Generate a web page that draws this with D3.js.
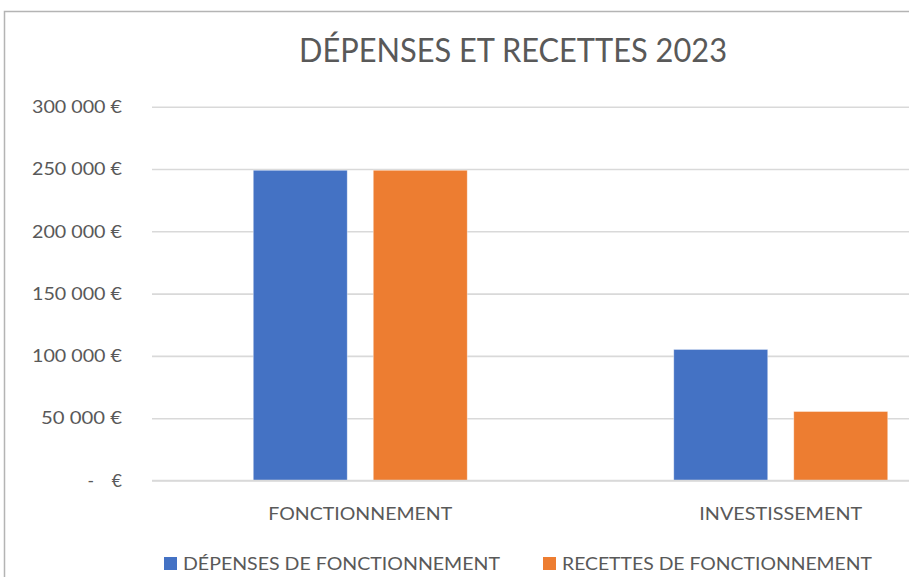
<!DOCTYPE html>
<html><head><meta charset="utf-8">
<script src="https://cdn.jsdelivr.net/npm/d3@7"></script>
<style>body{margin:0;background:#fff}svg{display:block}</style>
</head><body>
<script>
const categories = ["FONCTIONNEMENT", "INVESTISSEMENT"];
const seriesNames = ["DÉPENSES DE FONCTIONNEMENT", "RECETTES DE FONCTIONNEMENT"];
const depenses = [249000, 105200];
const recettes = [249000, 55400];
const yTicks = [0, 50000, 100000, 150000, 200000, 250000, 300000];
const title = "DÉPENSES ET RECETTES 2023";

const W = 909, H = 577;
const colors = ["#4472C4", "#ED7D31"];
const textColor = "#595959";
const font = "Lato, 'Open Sans', sans-serif";

const svg = d3.select("body").append("svg").attr("width", W).attr("height", H);

// chart border
svg.append("path").attr("d", `M4.5,${H} V11.5 H${W}`).attr("fill", "none")
  .attr("stroke", "#b4b4b4").attr("stroke-width", 1.5);

const x0 = d3.scaleBand().domain(categories).range([150, 991]).padding(0);
const bw = x0.bandwidth();
const x1 = d3.scaleBand().domain(seriesNames).range([bw / 2 - 107, bw / 2 + 107]).paddingInner(0.2167).paddingOuter(0);
const y = d3.scaleLinear().domain([0, 300000]).range([480.5, 106.7]);

// gridlines
const grid = svg.append("g").attr("transform", "translate(152,0)")
  .call(d3.axisLeft(y).tickValues(yTicks).tickSize(-(W - 152)).tickFormat(""));
grid.select(".domain").remove();
grid.selectAll("line").attr("stroke", "#d9d9d9").attr("stroke-width", 1.6);

// bars
const data = categories.map((c, i) => ({ cat: c, vals: [depenses[i], recettes[i]] }));
const groups = svg.append("g").selectAll("g").data(data).join("g")
  .attr("transform", d => `translate(${x0(d.cat)},0)`);
groups.selectAll("rect").data(d => d.vals.map((v, j) => ({ s: seriesNames[j], v, j })))
  .join("rect")
  .attr("x", d => x1(d.s)).attr("width", x1.bandwidth())
  .attr("y", d => y(d.v)).attr("height", d => y(0) - y(d.v))
  .attr("fill", d => colors[d.j]).attr("stroke", "rgba(255,255,255,0.5)").attr("stroke-width", 0.8);

// zero axis line on top
svg.append("line").attr("x1", 152).attr("x2", W).attr("y1", y(0)).attr("y2", y(0))
  .attr("stroke", "#d9d9d9").attr("stroke-width", 1.6);

// y axis labels
const fmt = v => v === 0 ? "-\u00a0\u00a0\u00a0\u00a0€" : d3.format(",")(v).replace(/,/g, " ") + " €";
const yAxis = svg.append("g").attr("transform", "translate(152,0)")
  .call(d3.axisLeft(y).tickValues(yTicks).tickSize(0).tickPadding(30).tickFormat(fmt));
yAxis.select(".domain").remove();
yAxis.selectAll("text").attr("font-family", font).attr("font-size", 17.5)
  .attr("fill", textColor).attr("dy", "0.33em")
  .each(function (d) { if (d !== 0) d3.select(this).attr("textLength", d >= 100000 ? 90 : 81).attr("lengthAdjust", "spacingAndGlyphs"); });

// x axis labels
const xAxis = svg.append("g").attr("transform", `translate(0,${y(0)})`)
  .call(d3.axisBottom(x0).tickSize(0).tickPadding(27.5));
xAxis.select(".domain").remove();
xAxis.selectAll("text").attr("font-family", font).attr("font-size", 17.5).attr("fill", textColor)
  .attr("textLength", d => d === "FONCTIONNEMENT" ? 184 : 163).attr("lengthAdjust", "spacingAndGlyphs");

// title
svg.append("text").attr("x", 513).attr("y", 62).attr("text-anchor", "middle")
  .attr("font-family", font).attr("font-size", 32.5).attr("fill", textColor)
  .attr("textLength", 428).attr("lengthAdjust", "spacingAndGlyphs").text(title);

// legend
const legendX = [164, 543];
const legendW = [317, 310];
const leg = svg.append("g").selectAll("g").data(seriesNames).join("g")
  .attr("transform", (d, i) => `translate(${legendX[i]},557)`);
leg.append("rect").attr("width", 13).attr("height", 13).attr("fill", (d, i) => colors[i]);
leg.append("text").attr("x", 19).attr("y", 12.5).attr("font-family", font).attr("font-size", 17.5)
  .attr("fill", textColor).attr("textLength", (d, i) => legendW[i]).attr("lengthAdjust", "spacingAndGlyphs")
  .text(d => d);
</script>
</body></html>
